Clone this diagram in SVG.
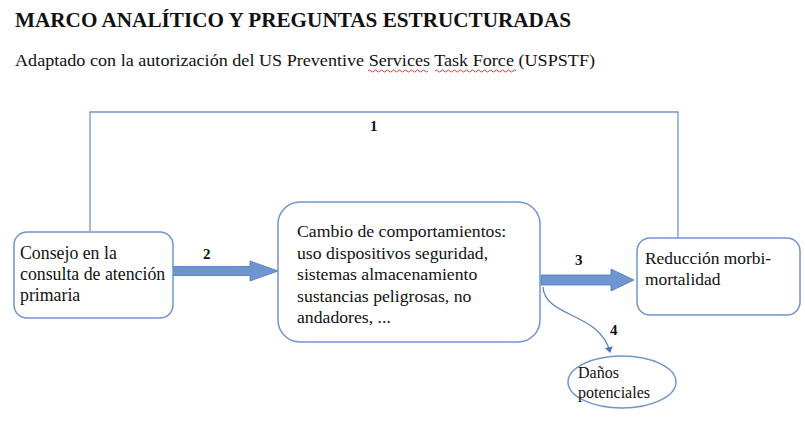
<svg xmlns="http://www.w3.org/2000/svg" width="805" height="432" viewBox="0 0 805 432">
<style>
.t{font-family:"Liberation Serif","Times New Roman",serif;fill:#111}
.box{fill:#fff;stroke:#7096cf;stroke-width:1.5}
.ln{fill:none;stroke:#7096cf;stroke-width:1.3}
.arr{fill:#6c95d1;stroke:#4f78b8;stroke-width:0.8}
.lbl{font-family:"Liberation Serif","Times New Roman",serif;font-weight:bold;font-size:15px;fill:#111}
.wav{fill:none;stroke:#d22;stroke-width:0.9}
</style>
<defs>
<marker id="ah" markerWidth="8" markerHeight="8" refX="5" refY="4" orient="auto" markerUnits="userSpaceOnUse">
<path d="M0,0 L6,4 L0,8 z" fill="#4f78b8"/>
</marker>
</defs>
<rect width="805" height="432" fill="#fff"/>
<text class="t" x="15" y="27" font-size="20.5" font-weight="bold" textLength="556" lengthAdjust="spacingAndGlyphs">MARCO ANALÍTICO Y PREGUNTAS ESTRUCTURADAS</text>
<text class="t" x="15" y="66" font-size="17.5" textLength="580" lengthAdjust="spacingAndGlyphs">Adaptado con la autorización del US Preventive Services Task Force (USPSTF)</text>
<path class="wav" d="M368,71 q1.5,-2 3,0 t3,0 t3,0 t3,0 t3,0 t3,0 t3,0 t3,0 t3,0 t3,0 t3,0 t3,0 t3,0 t3,0 t3,0 t3,0 t3,0 t3,0 t3,0 t3,0"/>
<path class="wav" d="M435,71 q1.5,-2 3,0 t3,0 t3,0 t3,0 t3,0 t3,0 t3,0 t3,0 t3,0 t3,0 t3,0 t3,0 t3,0 t3,0 t3,0 t3,0 t3,0 t3,0 t3,0 t3,0 t3,0 t3,0 t3,0 t3,0 t3,0 t3,0 t3,0"/>
<g id="connectors">
<path class="ln" d="M90,231 V112 H678 V238"/>
<text class="lbl" x="370" y="131">1</text>
<path class="arr" d="M173,266.5 H250 V261 L278,271 L250,281 V275.5 H173 z"/>
<text class="lbl" x="203" y="259">2</text>
<path class="arr" d="M541,275 H611 V269 L634,280 L611,291 V285 H541 z"/>
<text class="lbl" x="575" y="265">3</text>
<path d="M543,287 C545,318 600,312 610,352" fill="none" stroke="#5b83c2" stroke-width="1.3" marker-end="url(#ah)"/>
<text class="lbl" x="610" y="335">4</text>
</g>
<g id="node-consejo">
<rect class="box" x="14" y="232" width="159" height="86" rx="13"/>
<text class="t" font-size="17.8"><tspan x="20" y="259">Consejo en la</tspan><tspan x="20" y="280">consulta de atención</tspan><tspan x="20" y="301">primaria</tspan></text>
</g>
<g id="node-cambio">
<rect class="box" x="278" y="202" width="262" height="140" rx="22"/>
<text class="t" font-size="17.7"><tspan x="297" y="237">Cambio de comportamientos:</tspan><tspan x="297" y="258.5">uso dispositivos seguridad,</tspan><tspan x="297" y="280">sistemas almacenamiento</tspan><tspan x="297" y="301.5">sustancias peligrosas, no</tspan><tspan x="297" y="323">andadores, ...</tspan></text>
</g>
<g id="node-reduccion">
<rect class="box" x="637" y="238" width="163" height="77" rx="13"/>
<text class="t" font-size="17.4"><tspan x="645" y="264">Reducción morbi-</tspan><tspan x="645" y="285">mortalidad</tspan></text>
</g>
<g id="node-danos">
<ellipse class="box" cx="622" cy="382" rx="54" ry="26"/>
<text class="t" font-size="16"><tspan x="578" y="378">Daños</tspan><tspan x="578" y="398">potenciales</tspan></text>
</g>
</svg>
